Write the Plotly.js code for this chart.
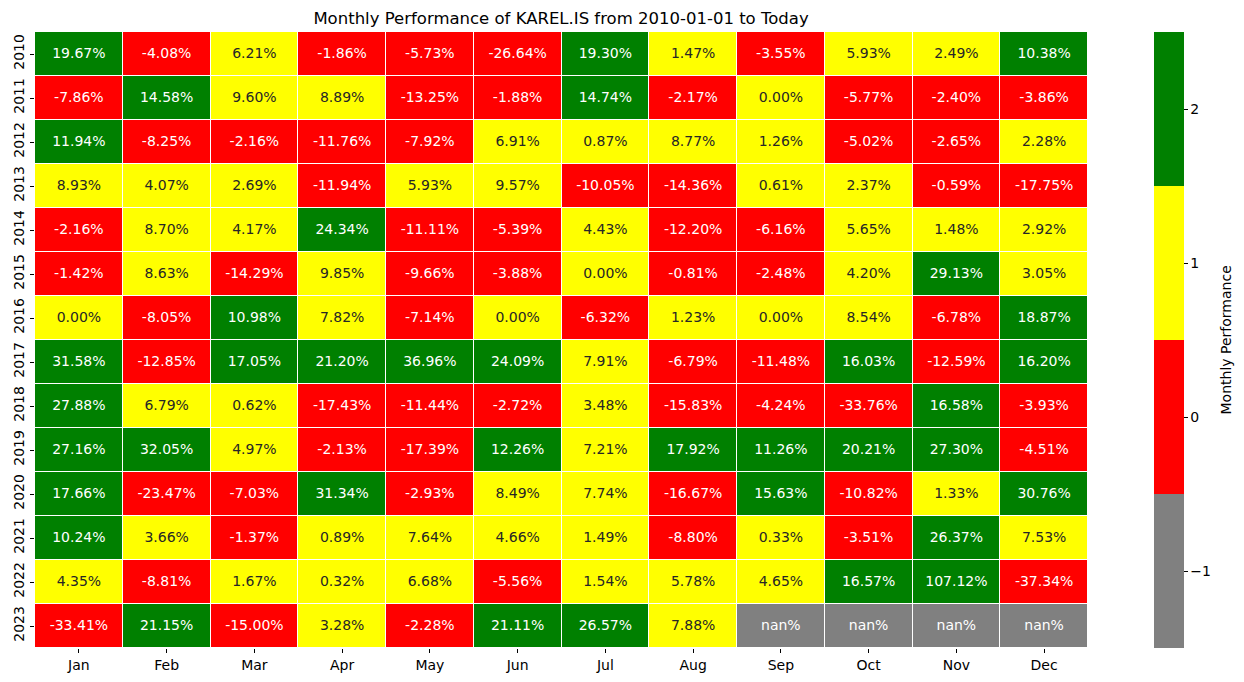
<!DOCTYPE html>
<html>
<head>
<meta charset="utf-8">
<script src="https://cdn.plot.ly/plotly-3.0.1.min.js"></script>
<style>html,body{margin:0;padding:0;background:#fff;}#chart{width:1244px;height:682px;}</style>
</head>
<body>
<div id="chart"></div>
<script>
const months = ["Jan","Feb","Mar","Apr","May","Jun","Jul","Aug","Sep","Oct","Nov","Dec"];
const years = ["2010","2011","2012","2013","2014","2015","2016","2017","2018","2019","2020","2021","2022","2023"];
const r2010 = [19.67,-4.08,6.21,-1.86,-5.73,-26.64,19.30,1.47,-3.55,5.93,2.49,10.38];
const r2011 = [-7.86,14.58,9.60,8.89,-13.25,-1.88,14.74,-2.17,0.00,-5.77,-2.40,-3.86];
const r2012 = [11.94,-8.25,-2.16,-11.76,-7.92,6.91,0.87,8.77,1.26,-5.02,-2.65,2.28];
const r2013 = [8.93,4.07,2.69,-11.94,5.93,9.57,-10.05,-14.36,0.61,2.37,-0.59,-17.75];
const r2014 = [-2.16,8.70,4.17,24.34,-11.11,-5.39,4.43,-12.20,-6.16,5.65,1.48,2.92];
const r2015 = [-1.42,8.63,-14.29,9.85,-9.66,-3.88,0.00,-0.81,-2.48,4.20,29.13,3.05];
const r2016 = [0.00,-8.05,10.98,7.82,-7.14,0.00,-6.32,1.23,0.00,8.54,-6.78,18.87];
const r2017 = [31.58,-12.85,17.05,21.20,36.96,24.09,7.91,-6.79,-11.48,16.03,-12.59,16.20];
const r2018 = [27.88,6.79,0.62,-17.43,-11.44,-2.72,3.48,-15.83,-4.24,-33.76,16.58,-3.93];
const r2019 = [27.16,32.05,4.97,-2.13,-17.39,12.26,7.21,17.92,11.26,20.21,27.30,-4.51];
const r2020 = [17.66,-23.47,-7.03,31.34,-2.93,8.49,7.74,-16.67,15.63,-10.82,1.33,30.76];
const r2021 = [10.24,3.66,-1.37,0.89,7.64,4.66,1.49,-8.80,0.33,-3.51,26.37,7.53];
const r2022 = [4.35,-8.81,1.67,0.32,6.68,-5.56,1.54,5.78,4.65,16.57,107.12,-37.34];
const r2023 = [-33.41,21.15,-15.00,3.28,-2.28,21.11,26.57,7.88,null,null,null,null];
const values = [r2010,r2011,r2012,r2013,r2014,r2015,r2016,r2017,r2018,r2019,r2020,r2021,r2022,r2023];

function category(v){
  if (v === null) return -1;
  if (v < 0) return 0;
  if (v < 10) return 1;
  return 2;
}
const txtColors = {"-1":"#ffffff","0":"#ffffff","1":"#262626","2":"#ffffff"};

const z = values.map(row => row.map(category));

const tx = [], ty = [], tt = [], tc = [];
values.forEach((row, i) => row.forEach((v, j) => {
  tx.push(months[j]); ty.push(years[i]);
  tt.push(v === null ? "nan%" : v.toFixed(2) + "%");
  tc.push(txtColors[String(category(v))]);
}));

const font = {family: "DejaVu Sans, sans-serif", size: 14, color: "#000"};

const heat = {
  type: "heatmap", x: months, y: years, z: z,
  zmin: -1.5, zmax: 2.5,
  colorscale: [[0,"#808080"],[0.25,"#808080"],[0.25,"#ff0000"],[0.5,"#ff0000"],[0.5,"#ffff00"],[0.75,"#ffff00"],[0.75,"#008000"],[1,"#008000"]],
  xgap: 1, ygap: 1, hoverinfo: "skip",
  colorbar: {
    x: 1.0627, xanchor: "left", xref: "paper", y: 0.5, yanchor: "middle",
    len: 1, lenmode: "fraction", thickness: 30, thicknessmode: "pixels",
    outlinewidth: 0, xpad: 0, ypad: 0,
    tickvals: [-1,0,1,2], ticktext: ["\u22121","0","1","2"],
    ticks: "outside", ticklen: 4, tickwidth: 1, tickcolor: "#000",
    tickfont: font
  }
};

const labels = {
  type: "scatter", mode: "text", x: tx, y: ty, text: tt,
  textposition: "middle center",
  textfont: {family: "DejaVu Sans, sans-serif", size: 14, color: tc},
  hoverinfo: "skip", showlegend: false, cliponaxis: false
};

const layout = {
  width: 1244, height: 682,
  margin: {l: 35, r: 156, t: 32, b: 34},
  paper_bgcolor: "#fff", plot_bgcolor: "#fff",
  font: font,
  title: {text: "Monthly Performance of KAREL.IS from 2010-01-01 to Today", font: {family: "DejaVu Sans, sans-serif", size: 16.5, color: "#000"}, x: 0.451, xanchor: "center", y: 0.973, yanchor: "middle"},
  xaxis: {type: "category", categoryarray: months, range: [-0.5, 11.5], showgrid: false, zeroline: false, showline: false,
          ticks: "outside", ticklen: 4, tickcolor: "#000", tickfont: font, fixedrange: true},
  yaxis: {type: "category", categoryarray: years, range: [13.5, -0.5], showgrid: false, zeroline: false, showline: false,
          ticks: "outside", ticklen: 4, tickcolor: "#000", tickfont: font, tickangle: -90, fixedrange: true},
  annotations: [{text: "Monthly Performance", xref: "paper", yref: "paper", x: 1.1315, y: 0.5,
                 xanchor: "center", yanchor: "middle", textangle: -90, showarrow: false,
                 font: {family: "DejaVu Sans, sans-serif", size: 14, color: "#000"}}],
  showlegend: false
};

Plotly.newPlot("chart", [heat, labels], layout, {displayModeBar: false, staticPlot: true});
</script>
</body>
</html>
